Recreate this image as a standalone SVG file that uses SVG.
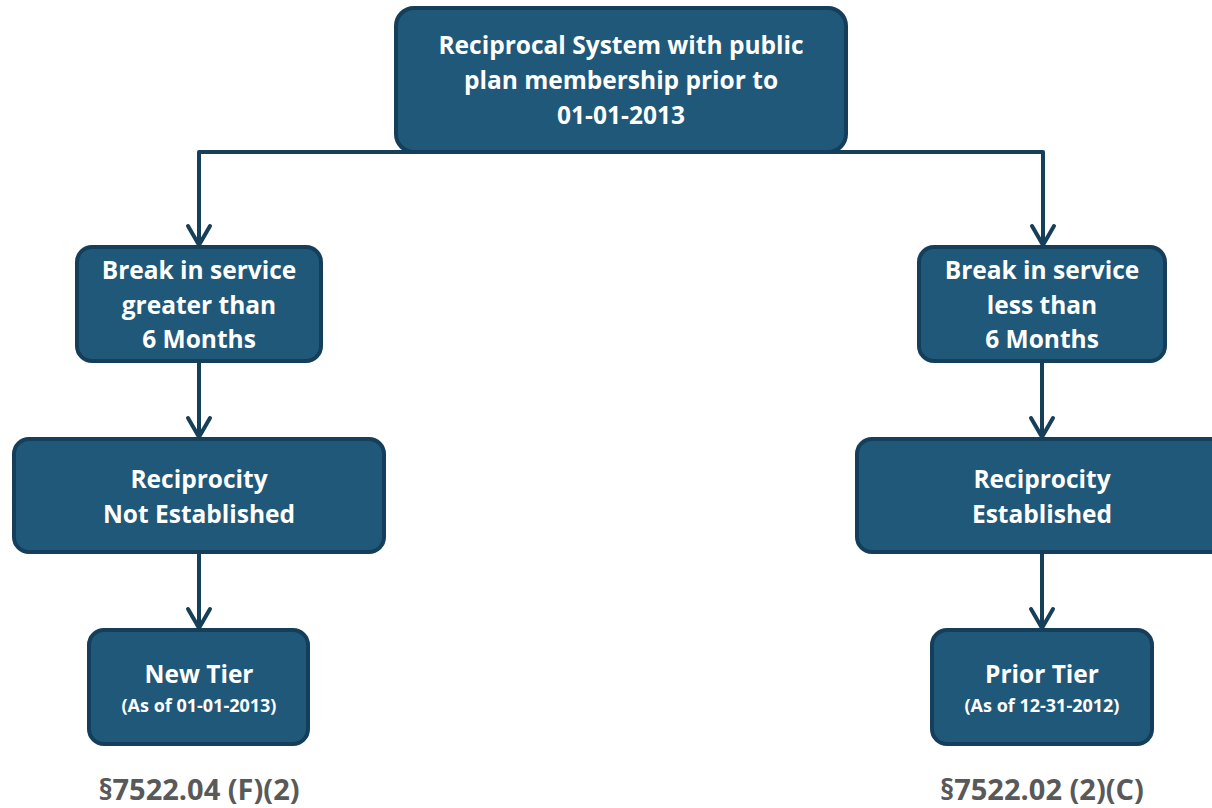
<svg xmlns="http://www.w3.org/2000/svg" width="1212" height="808" viewBox="0 0 1212 808">
  <defs>
    <style>
      .box { fill: #1f5879; stroke: #143e59; stroke-width: 4; }
      .t { font-family: "Open Sans", Lato, "Liberation Sans", sans-serif; font-weight: bold; fill: #ffffff; text-anchor: middle; }
      .big { font-size: 24.5px; }
      .small { font-size: 18px; }
      .ref { font-family: "Open Sans", Lato, "Liberation Sans", sans-serif; font-weight: bold; fill: #595959; text-anchor: middle; font-size: 29px; }
      .wire { fill: none; stroke: #163f5a; stroke-width: 4; stroke-linejoin: round; }
      .head { fill: none; stroke: #163f5a; stroke-width: 4; stroke-linecap: round; stroke-linejoin: round; }
    </style>
  </defs>
  <rect width="1212" height="808" fill="#ffffff"/>

  <g id="connectors">
    <path class="wire" d="M199,245 L199,152 L1043,152 L1043,245"/>
    <path class="wire" d="M199,362 L199,437"/>
    <path class="wire" d="M1042,362 L1042,437"/>
    <path class="wire" d="M199,552 L199,628"/>
    <path class="wire" d="M1042,552 L1042,628"/>
    <path class="head" d="M188,226 L199,245 L210,226"/>
    <path class="head" d="M1032,226 L1043,245 L1054,226"/>
    <path class="head" d="M188,418 L199,437 L210,418"/>
    <path class="head" d="M1031,418 L1042,437 L1053,418"/>
    <path class="head" d="M188,609 L199,628 L210,609"/>
    <path class="head" d="M1031,609 L1042,628 L1053,609"/>
  </g>

  <g id="root">
    <rect class="box" x="396" y="8" width="450" height="144" rx="18"/>
    <text class="t big" x="621" y="54">Reciprocal System with public</text>
    <text class="t big" x="621" y="89">plan membership prior to</text>
    <text class="t big" x="621" y="124">01-01-2013</text>
  </g>

  <g id="break-greater">
    <rect class="box" x="77" y="247" width="244" height="114" rx="15"/>
    <text class="t big" x="199" y="279">Break in service</text>
    <text class="t big" x="199" y="314">greater than</text>
    <text class="t big" x="199" y="348">6 Months</text>
  </g>

  <g id="break-less">
    <rect class="box" x="919" y="247" width="246" height="114" rx="15"/>
    <text class="t big" x="1042" y="279">Break in service</text>
    <text class="t big" x="1042" y="314">less than</text>
    <text class="t big" x="1042" y="348">6 Months</text>
  </g>

  <g id="not-established">
    <rect class="box" x="14" y="439" width="370" height="113" rx="15"/>
    <text class="t big" x="199" y="488">Reciprocity</text>
    <text class="t big" x="199" y="523">Not Established</text>
  </g>

  <g id="established">
    <rect class="box" x="857" y="439" width="372" height="113" rx="15"/>
    <text class="t big" x="1042" y="488">Reciprocity</text>
    <text class="t big" x="1042" y="523">Established</text>
  </g>

  <g id="new-tier">
    <rect class="box" x="89" y="630" width="219" height="114" rx="15"/>
    <text class="t big" x="199" y="683">New Tier</text>
    <text class="t small" x="199" y="712">(As of 01-01-2013)</text>
  </g>

  <g id="prior-tier">
    <rect class="box" x="932" y="630" width="220" height="114" rx="15"/>
    <text class="t big" x="1042" y="683">Prior Tier</text>
    <text class="t small" x="1042" y="712">(As of 12-31-2012)</text>
  </g>

  <text class="ref" x="199" y="800">§7522.04 (F)(2)</text>
  <text class="ref" x="1042" y="800">§7522.02 (2)(C)</text>
</svg>
